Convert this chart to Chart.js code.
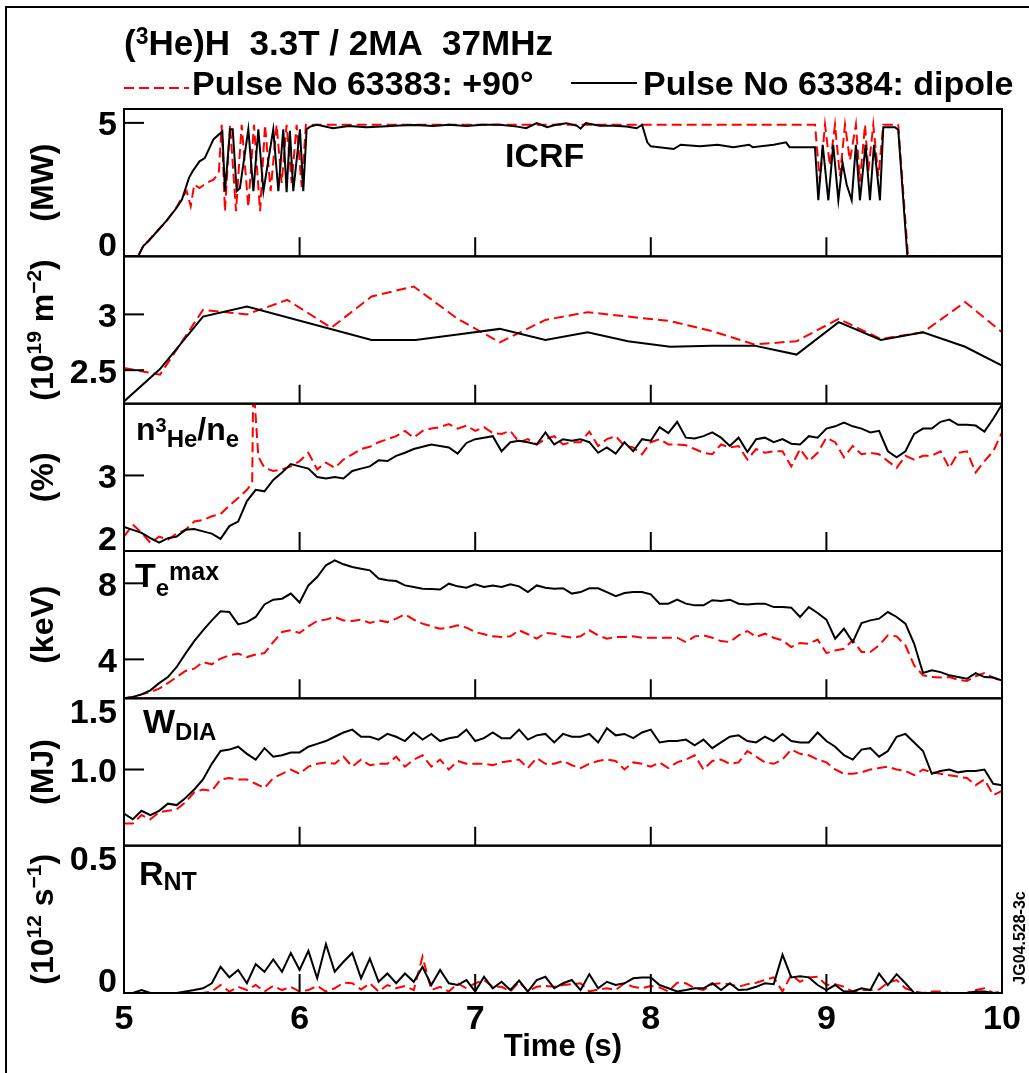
<!DOCTYPE html>
<html>
<head>
<meta charset="utf-8">
<script src="https://cdn.jsdelivr.net/npm/chart.js@4.4.1/dist/chart.umd.min.js"></script>
<style>
  html, body { margin: 0; padding: 0; background: #fff; }
  #wrap { width: 1029px; height: 1073px; }
</style>
</head>
<body>
<div id="wrap"><canvas id="myChart" width="1029" height="1073"></canvas></div>
<script>
// A = Pulse No 63383 (+90 deg, red dashed), B = Pulse No 63384 (dipole, black)

// shared time base (s) for the sampled traces of panels 3-6
const tGrid = [
  5.00, 5.05, 5.10, 5.15, 5.20, 5.25, 5.30, 5.35, 5.40, 5.45,
  5.50, 5.55, 5.60, 5.65, 5.70, 5.75, 5.80, 5.85, 5.90, 5.95,
  6.00, 6.05, 6.10, 6.15, 6.20, 6.25, 6.30, 6.35, 6.40, 6.45,
  6.50, 6.55, 6.60, 6.65, 6.70, 6.75, 6.80, 6.85, 6.90, 6.95,
  7.00, 7.05, 7.10, 7.15, 7.20, 7.25, 7.30, 7.35, 7.40, 7.45,
  7.50, 7.55, 7.60, 7.65, 7.70, 7.75, 7.80, 7.85, 7.90, 7.95,
  8.00, 8.05, 8.10, 8.15, 8.20, 8.25, 8.30, 8.35, 8.40, 8.45,
  8.50, 8.55, 8.60, 8.65, 8.70, 8.75, 8.80, 8.85, 8.90, 8.95,
  9.00, 9.05, 9.10, 9.15, 9.20, 9.25, 9.30, 9.35, 9.40, 9.45,
  9.50, 9.55, 9.60, 9.65, 9.70, 9.75, 9.80, 9.85, 9.90, 9.95,
  10.00
];

// ICRF power (MW)
const icrfTimeB = [5.00, 5.08, 5.11, 5.14, 5.19, 5.24, 5.30, 5.33, 5.37, 5.39, 5.43, 5.46, 5.51, 5.56,
  5.575, 5.604, 5.619, 5.642, 5.66, 5.708, 5.737, 5.765, 5.794, 5.85, 5.879, 5.907, 5.926, 5.945, 5.964,
  6.002, 6.021, 6.04, 6.06, 6.10, 6.19, 6.28, 6.38, 6.47, 6.57, 6.66, 6.76, 6.85, 6.95, 7.04, 7.14,
  7.24, 7.29, 7.35, 7.41, 7.46, 7.52, 7.58, 7.60, 7.63, 7.71, 7.79, 7.86, 7.92, 7.95, 7.98, 8.00,
  8.13, 8.17, 8.28, 8.38, 8.47, 8.56, 8.58, 8.70, 8.77, 8.79, 8.935, 8.954, 8.979, 9.011, 9.039,
  9.068, 9.092, 9.115, 9.144, 9.168, 9.191, 9.223, 9.248, 9.271, 9.305, 9.324, 9.39, 9.409, 9.461, 10.0];
const icrfB = [0, 0, 0.39, 0.57, 0.95, 1.32, 1.82, 2.13, 2.94, 3.18, 3.56, 3.68, 4.39, 4.68,
  2.44, 4.76, 4.76, 2.44, 2.55, 4.76, 2.44, 4.76, 2.44, 4.76, 2.44, 4.76, 2.40, 4.70, 2.44,
  4.76, 2.44, 4.76, 4.86, 4.93, 4.80, 4.88, 4.84, 4.86, 4.90, 4.92, 4.88, 4.93, 4.88, 4.93, 4.93,
  4.86, 4.80, 4.99, 4.84, 4.93, 4.99, 4.89, 4.78, 4.99, 4.89, 4.89, 4.86, 4.80, 4.93, 4.27, 4.12,
  4.02, 4.18, 4.12, 4.18, 4.09, 4.18, 4.09, 4.18, 4.27, 4.09, 4.09, 2.10, 4.18, 2.10, 4.18,
  2.10, 3.50, 2.70, 2.10, 4.18, 2.10, 4.18, 2.10, 4.18, 2.10, 4.84, 4.84, 4.74, 0, 0];
const icrfTimeA = [5.00, 5.08, 5.11, 5.14, 5.19, 5.24, 5.30, 5.33, 5.357, 5.38, 5.40, 5.43, 5.47, 5.51, 5.54,
  5.556, 5.575, 5.604, 5.638, 5.670, 5.708, 5.740, 5.775, 5.803, 5.835, 5.869, 5.898, 5.926, 5.955,
  5.983, 6.012, 6.036, 8.935, 8.963, 8.992, 9.020, 9.049, 9.077, 9.106, 9.134, 9.168, 9.191, 9.220,
  9.239, 9.267, 9.296, 9.324, 9.409, 9.465, 10.0];
const icrfA = [0, 0, 0.39, 0.60, 0.95, 1.30, 1.85, 2.20, 2.44, 1.88, 2.69, 2.56, 2.75, 2.87, 3.12,
  4.93, 1.69, 4.93, 1.69, 4.93, 1.85, 4.93, 1.69, 4.93, 2.44, 4.93, 2.75, 4.93, 2.75,
  4.93, 2.60, 4.93, 4.93, 2.80, 4.93, 3.40, 4.93, 3.00, 4.93, 3.60, 4.93, 2.80, 4.93,
  3.20, 4.93, 3.00, 4.93, 4.93, 0, 0];

// line integrated density (10^19 m^-2)
const densTimeB = [5.00, 5.205, 5.45, 5.70, 6.41, 6.66, 6.90, 7.14, 7.40, 7.64, 7.87, 8.11, 8.35, 8.59, 8.83, 9.07, 9.31, 9.55, 9.79, 10.0];
const densB = [2.22, 2.51, 2.98, 3.07, 2.77, 2.77, 2.82, 2.87, 2.77, 2.84, 2.76, 2.71, 2.72, 2.72, 2.64, 2.93, 2.77, 2.84, 2.71, 2.54];
const densTimeA = [5.00, 5.205, 5.45, 5.70, 5.93, 6.18, 6.41, 6.65, 6.90, 7.14, 7.40, 7.64, 7.87, 8.11, 8.35, 8.59, 8.83, 9.07, 9.31, 9.55, 9.79, 10.0];
const densA = [2.52, 2.46, 3.04, 3.00, 3.13, 2.88, 3.16, 3.25, 2.96, 2.75, 2.95, 3.02, 2.98, 2.94, 2.85, 2.73, 2.76, 2.96, 2.78, 2.84, 3.11, 2.84];

// n3He/ne (%)
const he3B = [
  2.32, 2.28, 2.24, 2.17, 2.11, 2.17, 2.19, 2.28, 2.29, 2.26,
  2.23, 2.16, 2.33, 2.39, 2.66, 2.81, 2.79, 2.94, 3.04, 3.15,
  3.12, 3.09, 2.98, 2.96, 2.98, 2.96, 3.06, 3.09, 3.12, 3.20,
  3.19, 3.26, 3.30, 3.35, 3.38, 3.41, 3.39, 3.37, 3.29, 3.43,
  3.48, 3.50, 3.52, 3.32, 3.44, 3.46, 3.44, 3.41, 3.57, 3.41,
  3.48, 3.46, 3.48, 3.44, 3.30, 3.37, 3.29, 3.44, 3.32, 3.48,
  3.46, 3.64, 3.56, 3.71, 3.50, 3.49, 3.52, 3.57, 3.50, 3.39,
  3.50, 3.31, 3.48, 3.50, 3.44, 3.48, 3.42, 3.41, 3.52, 3.50,
  3.62, 3.65, 3.70, 3.65, 3.62, 3.57, 3.59, 3.32, 3.24, 3.32,
  3.55, 3.62, 3.62, 3.71, 3.74, 3.67, 3.67, 3.66, 3.58, 3.75,
  3.94
];
const he3TimeA = [
  5.00, 5.05, 5.10, 5.15, 5.20, 5.25, 5.30, 5.35, 5.40, 5.45,
  5.50, 5.55, 5.60, 5.65, 5.70, 5.73, 5.735, 5.745, 5.765, 5.80, 5.85, 5.90, 5.95,
  6.00, 6.05, 6.10, 6.15, 6.20, 6.25, 6.30, 6.35, 6.40, 6.45,
  6.50, 6.55, 6.60, 6.65, 6.70, 6.75, 6.80, 6.85, 6.90, 6.95,
  7.00, 7.05, 7.10, 7.15, 7.20, 7.25, 7.30, 7.35, 7.40, 7.45,
  7.50, 7.55, 7.60, 7.65, 7.70, 7.75, 7.80, 7.85, 7.90, 7.95,
  8.00, 8.05, 8.10, 8.15, 8.20, 8.25, 8.30, 8.35, 8.40, 8.45,
  8.50, 8.55, 8.60, 8.65, 8.70, 8.75, 8.80, 8.85, 8.90, 8.95,
  9.00, 9.05, 9.10, 9.15, 9.20, 9.25, 9.30, 9.35, 9.40, 9.45,
  9.50, 9.55, 9.60, 9.65, 9.70, 9.75, 9.80, 9.85, 9.90, 9.95,
  10.00
];
const he3A = [
  2.19, 2.35, 2.24, 2.11, 2.19, 2.15, 2.23, 2.28, 2.39, 2.41,
  2.46, 2.49, 2.60, 2.70, 2.81, 2.90, 3.95, 3.95, 3.25, 3.10, 3.06, 3.08, 3.12,
  3.19, 3.30, 3.08, 3.17, 3.10, 3.21, 3.28, 3.35, 3.38, 3.44,
  3.48, 3.52, 3.59, 3.50, 3.59, 3.62, 3.64, 3.68, 3.62, 3.66,
  3.59, 3.64, 3.56, 3.55, 3.59, 3.44, 3.48, 3.41, 3.48, 3.52,
  3.41, 3.44, 3.44, 3.58, 3.39, 3.48, 3.52, 3.39, 3.37, 3.28,
  3.44, 3.48, 3.41, 3.41, 3.40, 3.35, 3.30, 3.28, 3.41, 3.37,
  3.39, 3.21, 3.35, 3.30, 3.32, 3.32, 3.12, 3.35, 3.19, 3.30,
  3.50, 3.44, 3.24, 3.39, 3.28, 3.30, 3.28, 3.19, 3.10, 3.26,
  3.21, 3.26, 3.26, 3.32, 3.10, 3.30, 3.32, 3.04, 3.19, 3.32,
  3.57
];

// Te max (keV)
const teB = [
  1.95, 2.02, 2.16, 2.37, 2.75, 3.07, 3.60, 4.30, 4.96, 5.53,
  6.05, 6.53, 6.49, 5.84, 5.96, 6.23, 6.89, 7.14, 7.19, 7.46,
  6.99, 7.89, 8.33, 8.95, 9.21, 9.00, 8.86, 8.77, 8.68, 8.25,
  8.16, 8.12, 7.89, 7.81, 7.72, 7.70, 7.67, 7.98, 7.84, 7.77,
  7.95, 7.81, 7.88, 7.81, 7.95, 7.84, 7.54, 7.89, 7.77, 7.72,
  7.74, 7.46, 7.54, 7.74, 7.74, 7.54, 7.32, 7.49, 7.54, 7.54,
  7.42, 6.93, 6.93, 7.14, 6.93, 6.84, 6.84, 7.11, 7.07, 7.14,
  6.93, 6.89, 6.93, 6.93, 6.75, 6.75, 6.72, 6.23, 6.75, 6.44,
  6.09, 5.09, 5.61, 4.91, 5.91, 6.05, 6.14, 6.49, 6.23, 5.88,
  4.82, 3.28, 3.42, 3.33, 3.16, 3.07, 2.98, 3.28, 3.07, 3.04,
  2.89
];
const teA = [
  1.95, 2.02, 2.16, 2.28, 2.46, 2.75, 3.07, 3.39, 3.51, 3.86,
  3.74, 4.04, 4.21, 4.30, 4.12, 4.26, 4.33, 4.91, 5.44, 5.53,
  5.39, 5.74, 6.02, 6.09, 6.23, 6.05, 6.02, 6.09, 5.91, 6.05,
  5.96, 6.14, 6.37, 6.09, 5.88, 5.74, 5.61, 5.67, 5.79, 5.67,
  5.44, 5.32, 5.21, 5.18, 5.21, 5.53, 5.32, 5.09, 5.39, 5.35,
  5.21, 5.14, 5.21, 5.53, 5.26, 5.09, 5.18, 5.18, 5.21, 5.14,
  5.14, 5.14, 5.14, 5.14, 4.91, 5.21, 5.26, 5.14, 4.96, 4.91,
  5.26, 5.49, 5.18, 5.35, 5.14, 5.00, 4.65, 4.86, 4.82, 5.04,
  4.33, 4.47, 4.56, 5.00, 4.39, 4.39, 4.74, 5.26, 5.21, 4.74,
  3.68, 3.16, 3.07, 3.04, 3.07, 2.93, 2.86, 3.11, 3.28, 3.04,
  2.86
];

// diamagnetic energy WDIA (MJ)
const wdiaB = [
  0.69, 0.65, 0.71, 0.68, 0.71, 0.76, 0.75, 0.80, 0.86, 0.93,
  1.04, 1.13, 1.14, 1.16, 1.11, 1.07, 1.15, 1.09, 1.10, 1.12,
  1.12, 1.16, 1.18, 1.20, 1.23, 1.26, 1.28, 1.23, 1.23, 1.21,
  1.25, 1.23, 1.20, 1.26, 1.21, 1.25, 1.20, 1.22, 1.23, 1.28,
  1.20, 1.22, 1.26, 1.22, 1.22, 1.28, 1.21, 1.24, 1.25, 1.19,
  1.25, 1.23, 1.23, 1.25, 1.19, 1.29, 1.24, 1.25, 1.22, 1.26,
  1.28, 1.19, 1.20, 1.20, 1.21, 1.17, 1.21, 1.15, 1.19, 1.23,
  1.24, 1.20, 1.19, 1.23, 1.20, 1.25, 1.20, 1.19, 1.19, 1.26,
  1.20, 1.16, 1.10, 1.07, 1.14, 1.15, 1.09, 1.13, 1.23, 1.25,
  1.19, 1.13, 0.97, 0.99, 1.00, 0.98, 0.99, 0.99, 1.00, 0.90,
  0.89
];
const wdiaA = [
  0.62, 0.62, 0.68, 0.65, 0.70, 0.71, 0.72, 0.77, 0.84, 0.86,
  0.85, 0.93, 0.94, 0.93, 0.93, 0.90, 0.87, 0.94, 0.97, 1.00,
  0.97, 1.02, 1.04, 1.05, 1.04, 1.09, 1.02, 1.07, 1.03, 1.04,
  1.04, 1.09, 1.02, 1.07, 1.10, 1.02, 1.07, 1.00, 1.06, 1.04,
  1.04, 1.04, 1.03, 1.05, 1.06, 1.07, 1.01, 1.08, 1.04, 1.04,
  1.06, 1.03, 1.01, 1.04, 1.06, 1.07, 1.06, 1.00, 1.05, 1.04,
  1.02, 1.05, 1.01, 1.05, 1.07, 1.10, 1.00, 1.06, 1.07, 1.04,
  1.05, 1.13, 1.09, 1.05, 1.04, 1.07, 1.14, 1.11, 1.10, 1.07,
  1.05, 1.00, 0.97, 0.97, 0.98, 1.00, 1.01, 1.02, 1.00, 0.99,
  0.96, 1.00, 0.98, 0.97, 0.96, 0.95, 0.94, 0.89, 0.93, 0.82,
  0.85
];

// neutron rate RNT (10^12 s^-1)
const rntB = [
  0, 0, 0.01, 0, 0, 0, 0, 0.005, 0.01, 0.016,
  0.033, 0.089, 0.053, 0.078, 0.033, 0.098, 0.072, 0.114, 0.072, 0.136,
  0.078, 0.143, 0.05, 0.166, 0.072, 0.106, 0.136, 0.05, 0.117, 0.038,
  0.066, 0.033, 0.066, 0.038, 0.089, 0.027, 0.078, 0.033, 0.027, 0.044,
  0.005, 0.055, 0.016, 0.038, 0.01, 0.042, 0.005, 0.044, 0.055, 0.016,
  0.033, 0.044, 0.01, 0.064, 0.016, 0.038, 0.027, 0.033, 0.05, 0.053,
  0.053, 0.027, 0.016, 0.005, 0.01, 0.016, 0.016, 0.033, 0.01, 0.033,
  0.01, 0.012, 0.021, 0.033, 0.03, 0.13, 0.053, 0.057, 0.053, 0.027,
  0.01, 0.027, 0.005, 0.005, 0.016, 0.01, 0.066, 0.027, 0.064, 0.033,
  0, 0, 0, 0, 0, 0, 0, 0.005, 0.005, 0,
  0
];
const rntA = [
  0, 0, 0, 0, 0, 0, 0, 0, 0, 0,
  0.005, 0.027, 0.005, 0.021, 0.01, 0.027, 0.005, 0.024, 0.01, 0.021,
  0.005, 0.01, 0.024, 0.005, 0.016, 0.035, 0.033, 0.012, 0.033, 0.005,
  0.027, 0.016, 0.024, 0.01, 0.123, 0.01, 0.021, 0.005, 0.033, 0.016,
  0.033, 0.044, 0.021, 0.021, 0.005, 0.038, 0.005, 0.021, 0.024, 0.021,
  0.027, 0.03, 0.033, 0.005, 0.012, 0.016, 0.01, 0.033, 0.021, 0.016,
  0.024, 0.019, 0.005, 0.035, 0.033, 0.016, 0.01, 0.03, 0.033, 0.03,
  0.021, 0.03, 0.035, 0.044, 0.053, 0.005, 0.061, 0.038, 0.053, 0.055,
  0.027, 0.03, 0.021, 0.005, 0.01, 0.01, 0.012, 0.035, 0.044, 0.016,
  0.005, 0, 0.005, 0.005, 0, 0, 0, 0.01, 0.016, 0,
  0.005
];

// axes
const xTicks = [5, 6, 7, 8, 9, 10];
const panelIds = ['y1', 'y2', 'y3', 'y4', 'y5', 'y6'];
const panelRanges = [[0, 5.52], [2.2, 3.52], [2, 3.95], [1.95, 9.7], [0.465, 1.5], [0, 0.5]];
const panelTicks = [[0, 5], [2.5, 3], [2, 3], [4, 8], [1.0, 1.5], [0, 0.5]];
const panelTickLabels = [['0', '5'], ['2.5', '3'], ['2', '3'], ['4', '8'], ['1.0', '1.5'], ['0', '0.5']];
// unit labels as [text, size, raise] pieces so the exponents can be superscripts
const panelUnits = [
  [['(MW)', 32, 0]],
  [['(10', 32, 0], ['19', 21, -12], [' m', 32, 0], ['\u22122', 21, -12], [')', 32, 0]],
  [['(%)', 32, 0]],
  [['(keV)', 32, 0]],
  [['(MJ)', 32, 0]],
  [['(10', 32, 0], ['12', 21, -12], [' s', 32, 0], ['\u22121', 21, -12], [')', 32, 0]]
];

const FONT = '"Liberation Sans", Arial, Helvetica, sans-serif';
const RED = '#ff0000';

function pts(ts, vs) {
  return ts.map((t, i) => ({ x: t, y: vs[i] }));
}

const seriesB = [[icrfTimeB, icrfB], [densTimeB, densB], [tGrid, he3B], [tGrid, teB], [tGrid, wdiaB], [tGrid, rntB]];
const seriesA = [[icrfTimeA, icrfA], [densTimeA, densA], [he3TimeA, he3A], [tGrid, teA], [tGrid, wdiaA], [tGrid, rntA]];

const datasets = [];
panelIds.forEach((id, k) => {
  datasets.push({
    label: 'Pulse No 63384: dipole', data: pts(seriesB[k][0], seriesB[k][1]), yAxisID: id,
    borderColor: '#000', borderWidth: 2, pointRadius: 0, tension: 0
  });
});
panelIds.forEach((id, k) => {
  datasets.push({
    label: 'Pulse No 63383: +90°', data: pts(seriesA[k][0], seriesA[k][1]), yAxisID: id,
    borderColor: RED, borderWidth: 2, borderDash: [10, 5], pointRadius: 0, tension: 0
  });
});

const scales = {
  x: {
    type: 'linear', min: 5, max: 10,
    afterBuildTicks: s => { s.ticks = xTicks.map(v => ({ value: v })); },
    afterFit: s => { s.height = 80; },
    grid: { display: false, drawTicks: false },
    border: { display: false },
    ticks: { color: '#000', padding: 6, font: { family: FONT, size: 34, weight: 'bold' } },
    title: { display: true, text: 'Time (s)', color: '#000', padding: { top: 0, bottom: 7 },
      font: { family: FONT, size: 31, weight: 'bold' } }
  }
};
panelIds.forEach((id, k) => {
  scales[id] = {
    type: 'linear', position: 'left', stack: 'panels', stackWeight: 1, weight: 6 - k,
    min: panelRanges[k][0], max: panelRanges[k][1],
    afterBuildTicks: s => { s.ticks = panelTicks[k].map(v => ({ value: v })); },
    afterFit: s => { s.width = 124; },
    grid: { display: false, drawTicks: false },
    border: { display: false },
    ticks: { display: false },
    title: { display: false }
  };
});

function piecesWidth(ctx, pieces) {
  let w = 0;
  pieces.forEach(p => {
    ctx.font = 'bold ' + p[1] + 'px ' + FONT;
    w += ctx.measureText(p[0]).width;
  });
  return w;
}

// draws text pieces with sub/superscripts: [text, size, dy]
function drawPieces(ctx, x, y, pieces) {
  ctx.textAlign = 'left';
  ctx.textBaseline = 'alphabetic';
  pieces.forEach(p => {
    ctx.font = 'bold ' + p[1] + 'px ' + FONT;
    ctx.fillText(p[0], x, y + p[2]);
    x += ctx.measureText(p[0]).width;
  });
}

const panelNames = [
  { x: 505, y: 167, pieces: [['ICRF', 34, 0]] },
  null,
  { x: 136, y: 440, pieces: [['n', 32, 0], ['3', 20, -8], ['He', 24, 7], ['/', 32, 0], ['n', 32, 0], ['e', 24, 7]] },
  { x: 135, y: 587, pieces: [['T', 34, 0], ['e', 24, 9], ['max', 25, -7]] },
  { x: 143, y: 733, pieces: [['W', 34, 0], ['DIA', 24, 7]] },
  { x: 139, y: 885, pieces: [['R', 34, 0], ['NT', 25, 5]] }
];

const figureDecor = {
  id: 'figureDecor',
  afterDraw(chart) {
    const ctx = chart.ctx;
    const area = chart.chartArea;
    const xs = chart.scales.x;
    ctx.save();
    ctx.strokeStyle = '#000';
    ctx.fillStyle = '#000';
    ctx.lineWidth = 2;

    // outer frame of the figure
    ctx.beginPath();
    ctx.moveTo(6, 1073); ctx.lineTo(6, 7); ctx.lineTo(1029, 7);
    ctx.stroke();

    panelIds.forEach((id, k) => {
      const ys = chart.scales[id];
      ctx.lineWidth = 2;
      ctx.strokeRect(area.left, ys.top, area.right - area.left, ys.bottom - ys.top);
      ctx.beginPath();
      xTicks.slice(1, -1).forEach(v => {
        const px = xs.getPixelForValue(v);
        ctx.moveTo(px, ys.bottom); ctx.lineTo(px, ys.bottom - 19);
      });
      ctx.stroke();
      ctx.font = 'bold 34px ' + FONT;
      ctx.textAlign = 'right';
      ctx.textBaseline = 'middle';
      ys.ticks.forEach((t, j) => {
        const py = ys.getPixelForValue(t.value);
        let ly = py + 3;
        if (py - ys.top < 3) ly = ys.top + 15;
        else if (ys.bottom - py < 3) ly = ys.bottom - 10;
        else {
          ctx.beginPath(); ctx.moveTo(area.left, py); ctx.lineTo(area.left + 20, py); ctx.stroke();
        }
        ctx.fillText(panelTickLabels[k][j], 117, ly);
      });
      const nm = panelNames[k];
      if (nm) drawPieces(ctx, nm.x, nm.y, nm.pieces);

      // rotated unit label centred on the panel
      const unit = panelUnits[k];
      const w = piecesWidth(ctx, unit);
      ctx.save();
      ctx.translate(43, (ys.top + ys.bottom) / 2);
      ctx.rotate(-Math.PI / 2);
      drawPieces(ctx, -w / 2, 10, unit);
      ctx.restore();
    });

    // heading and legend
    drawPieces(ctx, 124, 55, [['(', 35, 0], ['3', 23, -11], ['He)H  3.3T / 2MA  37MHz', 35, 0]]);
    ctx.font = 'bold 34px ' + FONT;
    const dsA = chart.data.datasets[6], dsB = chart.data.datasets[0];
    ctx.lineWidth = 2;
    ctx.strokeStyle = dsA.borderColor;
    ctx.setLineDash(dsA.borderDash);
    ctx.beginPath(); ctx.moveTo(124, 88); ctx.lineTo(189, 88); ctx.stroke();
    ctx.setLineDash([]);
    ctx.fillText(dsA.label, 192, 95);
    ctx.strokeStyle = dsB.borderColor;
    ctx.beginPath(); ctx.moveTo(571, 83); ctx.lineTo(637, 83); ctx.stroke();
    ctx.fillText(dsB.label, 643, 95);

    // figure reference code
    ctx.translate(1021, 938);
    ctx.rotate(-Math.PI / 2);
    ctx.textAlign = 'center';
    ctx.textBaseline = 'middle';
    ctx.font = 'bold 16px ' + FONT;
    ctx.fillText('JG04.528-3c', 0, 0);
    ctx.restore();
  }
};

const myChart = new Chart('myChart', {
  type: 'line',
  data: { datasets: datasets },
  options: {
    responsive: false,
    animation: false,
    layout: { padding: { top: 109, right: 27, bottom: 0, left: 0 } },
    plugins: { legend: { display: false }, tooltip: { enabled: false } },
    scales: scales
  },
  plugins: [figureDecor]
});
</script>
</body>
</html>
